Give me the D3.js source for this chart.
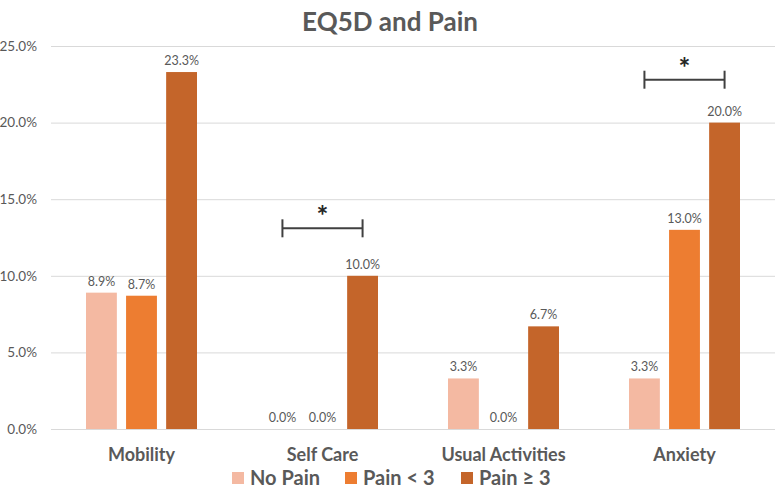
<!DOCTYPE html>
<html>
<head>
<meta charset="utf-8">
<script src="https://cdn.jsdelivr.net/npm/d3@7"></script>
<style>
  body { margin: 0; background: #fff; }
  text { font-family: Lato, "Open Sans", sans-serif; fill: #595959; }
</style>
</head>
<body>
<div id="chart"></div>
<script>
// chart data
var categories = ["Mobility", "Self Care", "Usual Activities", "Anxiety"];
var seriesNames = ["No Pain", "Pain < 3", "Pain \u2265 3"];
var noPain = [8.9, 0.0, 3.3, 3.3];
var painLt3 = [8.7, 0.0, 0.0, 13.0];
var painGe3 = [23.3, 10.0, 6.7, 20.0];
var yTicks = [0, 5, 10, 15, 20, 25];
// significance brackets: category, level (%)
var sigCats = ["Self Care", "Anxiety"];
var sigLevels = [13.1, 22.8];

var colors = ["#F4B9A2", "#ED7D31", "#C4652A"];
var seriesValues = [noPain, painLt3, painGe3];

// set the dimensions and margins of the graph
var margin = {top: 46, right: 3, bottom: 70, left: 51},
    width = 778 - margin.left - margin.right,
    height = 499 - margin.top - margin.bottom;

var svg = d3.select("#chart").append("svg")
    .attr("width", 778)
    .attr("height", 499);

var g = svg.append("g")
    .attr("transform", "translate(" + margin.left + "," + margin.top + ")");

var x0 = d3.scaleBand()
    .domain(categories)
    .range([0, width]);

var x1 = d3.scaleBand()
    .domain(seriesNames)
    .range([35, x0.bandwidth() - 35])
    .paddingInner(0.23);

var y = d3.scaleLinear()
    .domain([0, 25])
    .range([height, 0]);

// title
svg.append("text")
    .attr("x", 390)
    .attr("y", 31)
    .attr("text-anchor", "middle")
    .style("font-size", "26px")
    .style("font-weight", "bold")
    .text("EQ5D and Pain");

// gridlines
g.selectAll(".grid")
    .data(yTicks)
    .enter()
    .append("line")
    .attr("x1", 0)
    .attr("x2", width)
    .attr("y1", d => y(d) + 0.5)
    .attr("y2", d => y(d) + 0.5)
    .attr("stroke", "#d9d9d9")
    .attr("stroke-width", 1);

// Y axis
var yAxis = g.append("g")
    .call(d3.axisLeft(y)
        .tickValues(yTicks)
        .tickSize(0)
        .tickPadding(14)
        .tickFormat(d => d.toFixed(1) + "%"));
yAxis.select(".domain").remove();
yAxis.selectAll("text")
    .style("font-size", "13.5px")
    .style("font-family", "Lato, 'Open Sans', sans-serif")
    .attr("fill", "#595959");

// bars
var rows = categories.map(function (c, i) {
    return {cat: c, vals: seriesNames.map(function (s, j) {
        return {series: s, idx: j, value: seriesValues[j][i]};
    })};
});

var groups = g.selectAll(".group")
    .data(rows)
    .enter()
    .append("g")
    .attr("transform", d => "translate(" + x0(d.cat) + ",0)");

groups.selectAll("rect")
    .data(d => d.vals)
    .enter()
    .append("rect")
    .attr("x", d => x1(d.series))
    .attr("width", x1.bandwidth())
    .attr("y", d => y(d.value))
    .attr("height", d => height - y(d.value))
    .attr("fill", d => colors[d.idx]);

groups.selectAll(".lbl")
    .data(d => d.vals)
    .enter()
    .append("text")
    .attr("x", d => x1(d.series) + x1.bandwidth() / 2)
    .attr("y", d => y(d.value) - 7)
    .attr("text-anchor", "middle")
    .style("font-size", "12.5px")
    .text(d => d.value.toFixed(1) + "%");

// category labels
g.selectAll(".cat")
    .data(categories)
    .enter()
    .append("text")
    .attr("x", d => x0(d) + x0.bandwidth() / 2)
    .attr("y", height + 32)
    .attr("text-anchor", "middle")
    .style("font-size", "18px")
    .style("font-weight", "bold")
    .text(d => d);

// significance brackets
sigCats.forEach(function (c, i) {
    var xa = x0(c) + x1(seriesNames[0]) + x1.bandwidth() / 2;
    var xb = x0(c) + x1(seriesNames[2]) + x1.bandwidth() / 2;
    var yy = y(sigLevels[i]);
    var br = g.append("g").attr("stroke", "#404040").attr("stroke-width", 2);
    br.append("line").attr("x1", xa).attr("x2", xb).attr("y1", yy).attr("y2", yy);
    br.append("line").attr("x1", xa).attr("x2", xa).attr("y1", yy - 9).attr("y2", yy + 9);
    br.append("line").attr("x1", xb).attr("x2", xb).attr("y1", yy - 9).attr("y2", yy + 9);
    g.append("text")
        .attr("x", (xa + xb) / 2)
        .attr("y", yy - 2)
        .attr("text-anchor", "middle")
        .style("font-size", "28px")
        .style("font-weight", "bold")
        .style("fill", "#262626")
        .text("*");
});

// legend
var legendX = [232, 345, 461];
var legend = svg.selectAll(".legend")
    .data(seriesNames)
    .enter()
    .append("g")
    .attr("transform", (d, i) => "translate(" + legendX[i] + ",471)");
legend.append("rect")
    .attr("width", 12)
    .attr("height", 12)
    .attr("y", 1)
    .attr("fill", (d, i) => colors[i]);
legend.append("text")
    .attr("x", 18)
    .attr("y", 14)
    .style("font-size", "20px")
    .style("font-weight", "bold")
    .text(d => d);
</script>
</body>
</html>
